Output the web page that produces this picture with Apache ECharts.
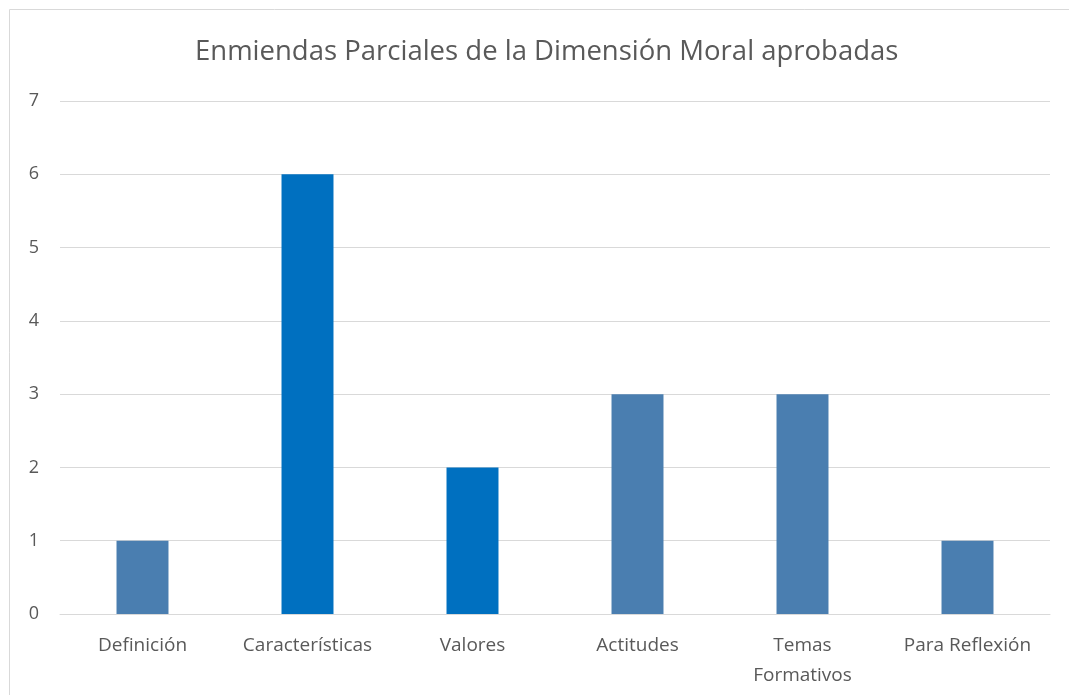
<!DOCTYPE html>
<html>
<head>
<meta charset="utf-8">
<script src="https://cdn.jsdelivr.net/npm/echarts@6/dist/echarts.min.js"></script>
<style>
  html, body { margin: 0; padding: 0; background: #fff; }
  #chart { width: 1069px; height: 695px; }
</style>
</head>
<body>
<div id="chart"></div>
<script>
const categories = ['Definición', 'Características', 'Valores', 'Actitudes', 'Temas\nFormativos', 'Para Reflexión'];
const values = [1, 6, 2, 3, 3, 1];
// two blues used by the source chart
const barColors = ['#4A7EB0', '#0070C0', '#0070C0', '#4A7EB0', '#4A7EB0', '#4A7EB0'];

const myChart = echarts.init(document.getElementById('chart'));
const font = 'Open Sans';

const option = {
  animation: false,
  title: {
    text: 'Enmiendas Parciales de la Dimensión Moral aprobadas',
    left: 190,
    top: 33,
    textStyle: { fontFamily: font, fontSize: 27.5, fontWeight: 'normal', color: '#595959' }
  },
  graphic: [{
    type: 'rect',
    shape: { x: 9.5, y: 9.5, width: 1100, height: 720 },
    style: { fill: 'none', stroke: '#d9d9d9', lineWidth: 1 },
    silent: true
  }],
  grid: { left: 60, right: 19, top: 101, bottom: 81 },
  xAxis: {
    type: 'category',
    data: categories,
    axisLine: { show: true, lineStyle: { color: '#d9d9d9' } },
    axisTick: { show: false },
    axisLabel: {
      interval: 0, hideOverlap: false,
      fontFamily: font, fontSize: 19, color: '#595959', margin: 17, lineHeight: 30
    }
  },
  yAxis: {
    type: 'value',
    min: 0,
    max: 7,
    interval: 1,
    axisLine: { show: false },
    axisTick: { show: false },
    splitLine: { lineStyle: { color: '#d9d9d9' } },
    axisLabel: { fontFamily: font, fontSize: 18, color: '#595959', margin: 21 }
  },
  series: [{
    type: 'bar',
    barWidth: '31.5%',
    data: values.map((v, i) => ({ value: v, itemStyle: { color: barColors[i] } }))
  }]
};
myChart.setOption(option);
</script>
</body>
</html>
